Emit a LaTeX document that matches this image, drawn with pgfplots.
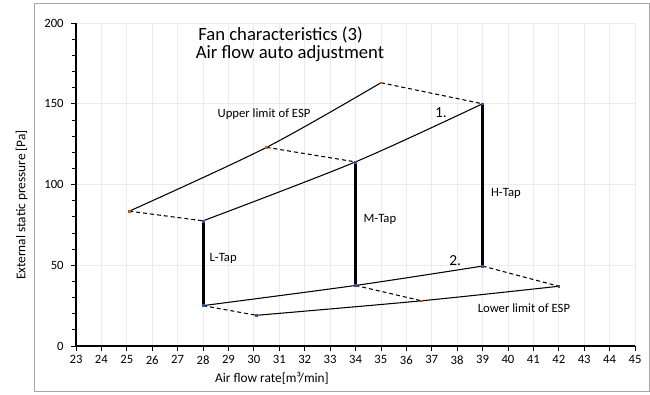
\documentclass[border=0pt]{standalone}
\usepackage{pgfplots}
\pgfplotsset{compat=1.18}
\usepackage{fontspec}
\setmainfont{Carlito}
\definecolor{gridc}{HTML}{EBEBEB}
\definecolor{framec}{HTML}{A6A6A6}
\definecolor{mkorange}{HTML}{C55A11}
\definecolor{mkblue}{HTML}{2F5597}
\begin{document}
\begin{tikzpicture}
\useasboundingbox (0pt,0pt) rectangle (487.5pt,295.5pt);
\draw[framec, line width=0.75pt] (25.5pt,2.25pt) rectangle (486.75pt,293.25pt);
\begin{axis}[
  at={(57pt,36pt)}, anchor=south west,
  scale only axis, width=419.25pt, height=242.25pt,
  xmin=23, xmax=45, ymin=0, ymax=200,
  xtick={23,24,...,45}, ytick={0,50,...,200}, minor y tick num=4,
  axis lines=left, axis line style={-, black, line width=0.8pt},
  tick align=outside, major tick length=3.75pt, minor tick length=3pt,
  tick style={black, line width=0.6pt},
  xmajorgrids, ymajorgrids, major grid style={gridc, line width=0.6pt},
  clip=false,
  /pgf/number format/assume math mode=true,
  ticklabel style={font=\fontsize{9.5}{10}\selectfont},
  yticklabel style={xshift=-2pt},
  xlabel={Air flow rate[m³/min]},
  ylabel={External static pressure [Pa]},
  label style={font=\fontsize{10}{12}\selectfont},
  xlabel style={at={(axis description cs:0.3506,-0.0991)}, anchor=center},
  ylabel style={at={(axis description cs:-0.0971,0.4365)}, anchor=center},
]
% upper limit of ESP
\addplot[black, line width=0.8pt, smooth] coordinates {(25.1,83.5) (30.5,123) (35,163)};
% upper operating curve (1.)
\addplot[black, line width=0.8pt, smooth] coordinates {(28,77.5) (34,114) (39,150)};
% lower operating curve (2.)
\addplot[black, line width=0.8pt, smooth] coordinates {(28,25) (34,37.5) (39,49.5)};
% lower limit of ESP
\addplot[black, line width=0.8pt, smooth] coordinates {(30.1,19) (36.6,28) (42,37)};
% dashed connectors
\addplot[black, line width=0.8pt, dash pattern=on 3pt off 2.2pt] coordinates {(25.1,83.5) (28,77.5)};
\addplot[black, line width=0.8pt, dash pattern=on 3pt off 2.2pt] coordinates {(30.5,123) (34,114)};
\addplot[black, line width=0.8pt, dash pattern=on 3pt off 2.2pt] coordinates {(35,163) (39,150)};
\addplot[black, line width=0.8pt, dash pattern=on 3pt off 2.2pt] coordinates {(28,25) (30.1,19)};
\addplot[black, line width=0.8pt, dash pattern=on 3pt off 2.2pt] coordinates {(34,37.5) (36.6,28)};
\addplot[black, line width=0.8pt, dash pattern=on 3pt off 2.2pt] coordinates {(39,49.5) (42,37)};
% taps
\addplot[black, line width=2.3pt] coordinates {(28,25) (28,77.5)};
\addplot[black, line width=2.3pt] coordinates {(34,37.5) (34,114)};
\addplot[black, line width=2.3pt] coordinates {(39,49.5) (39,150)};
% markers
\addplot[only marks, mark=square*, mark size=0.7pt, mkorange] coordinates {(25.1,83.5) (30.5,123) (35,163) (36.6,28)};
\addplot[only marks, mark=square*, mark size=0.7pt, mkblue] coordinates {(28,77.5) (34,114) (39,150) (28,25) (34,37.5) (39,49.5) (30.1,19) (42,37)};
% annotations
\node[font=\fontsize{14}{16}\selectfont, inner sep=0pt] at (axis cs:31.05,192.8) {Fan characteristics (3)};
\node[font=\fontsize{14}{16}\selectfont, inner sep=0pt] at (axis cs:31.42,181.2) {Air flow auto adjustment};
\node[font=\fontsize{9.5}{11}\selectfont] at (axis cs:30.40,143.7) {Upper limit of ESP};
\node[font=\fontsize{11.5}{13}\selectfont] at (axis cs:37.36,144.3) {1.};
\node[font=\fontsize{9.5}{11}\selectfont] at (axis cs:34.96,78.6) {M-Tap};
\node[font=\fontsize{9.5}{11}\selectfont] at (axis cs:39.92,94.7) {H-Tap};
\node[font=\fontsize{9.5}{11}\selectfont] at (axis cs:28.79,53.9) {L-Tap};
\node[font=\fontsize{11.5}{13}\selectfont] at (axis cs:37.92,52.6) {2.};
\node[font=\fontsize{9.5}{11}\selectfont] at (axis cs:40.63,23.5) {Lower limit of ESP};
\end{axis}
\end{tikzpicture}
\end{document}
